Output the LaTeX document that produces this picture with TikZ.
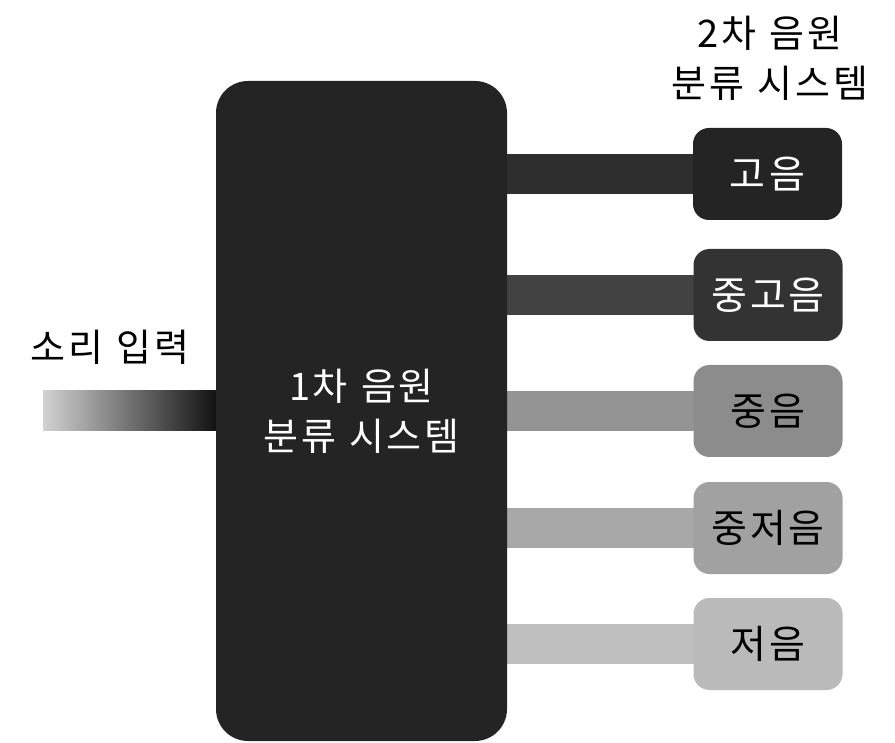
\documentclass[tikz,border=0pt]{standalone}
\usepackage{fontspec}
\setmainfont[LetterSpace=7]{Noto Sans CJK KR}
\usetikzlibrary{calc}
\pgfdeclarelayer{bg}
\pgfsetlayers{bg,main}
\newcommand{\gap}{\hspace{0.35em}}
\tikzset{
  lbl/.style={font=\fontsize{38}{50}\selectfont, align=center, inner sep=0pt},
  mainbox/.style={fill=black!86, rounded corners=32pt, minimum width=291pt, minimum height=660pt, inner sep=0pt, text=white, font=\fontsize{38}{50}\selectfont, align=center},
  outbox/.style={rounded corners=16pt, minimum width=149pt, minimum height=92pt, inner sep=0pt, font=\fontsize{39}{40}\selectfont},
  band/.style={line width=40pt}
}
\begin{document}
\begin{tikzpicture}[x=1pt,y=-1pt]
\useasboundingbox (0,0) rectangle (895,743);
% main box
\node[mainbox] (main) at (361.5,411) {1차\gap 음원\\[0pt]분류\gap 시스템};
% output boxes
\node[outbox, fill=black!86, text=white] (b1) at (767.5,174) {고\hspace{0.1em}음};
\node[outbox, fill=black!80, text=white] (b2) at (768,295) {중고음};
\node[outbox, fill=black!45, text=black] (b3) at (768,411) {중음};
\node[outbox, fill=black!37, text=black] (b4) at (768,528) {중저음};
\node[outbox, fill=black!27, text=black] (b5) at (768,644) {저음};
% labels
\node[lbl] (inlbl) at (110,347) {소리\gap 입력};
\node[lbl] (title) at (770,58) {2차\gap 음원\\분류\gap 시스템};
\coordinate (src) at (43,411);
\begin{pgfonlayer}{bg}
  \draw[band, black!82] ([xshift=-5pt]main.east |- b1.west) -- ([xshift=5pt]b1.west);
  \draw[band, black!74] ([xshift=-5pt]main.east |- b2.west) -- ([xshift=5pt]b2.west);
  \draw[band, black!42] ([xshift=-5pt]main.east |- b3.west) -- ([xshift=5pt]b3.west);
  \draw[band, black!34] ([xshift=-5pt]main.east |- b4.west) -- ([xshift=5pt]b4.west);
  \draw[band, black!25] ([xshift=-5pt]main.east |- b5.west) -- ([xshift=5pt]b5.west);
  \shade[left color=black!18, right color=black!95] ([yshift=-20pt]src) rectangle ([xshift=5pt,yshift=20pt]main.west);
\end{pgfonlayer}
\end{tikzpicture}
\end{document}
